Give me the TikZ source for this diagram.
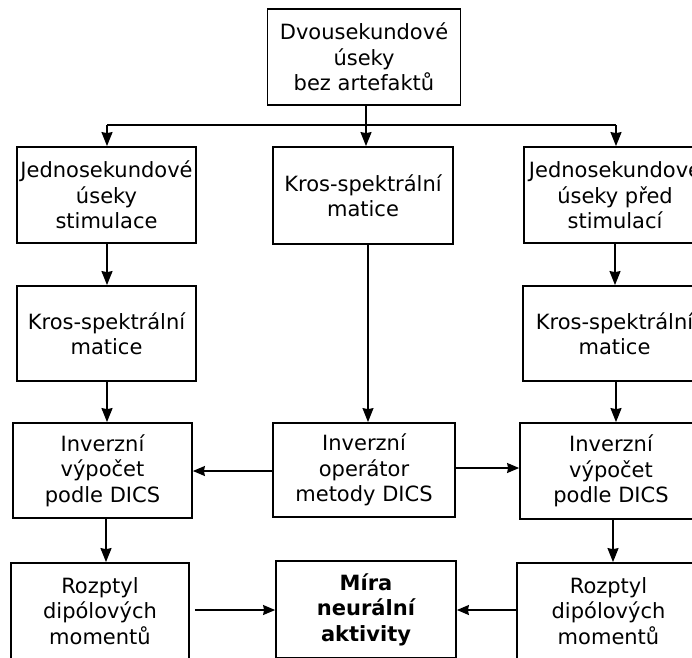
\documentclass[tikz,border=0pt]{standalone}
\usepackage{fontspec}
\setmainfont{DejaVu Sans}
\usetikzlibrary{arrows.meta}
\begin{document}
\begin{tikzpicture}[x=1pt,y=-1pt,
  box/.style={draw,line width=1.8pt,align=center,inner sep=0pt,
    font=\fontsize{21}{25.5}\selectfont},
  tip/.tip={Stealth[length=14pt,width=11pt,inset=1pt]},
  htip/.tip={Stealth[length=12pt,width=10pt,inset=1pt]},
  arr/.style={line width=1.5pt,-tip},
  harr/.style={line width=1.5pt,-htip},
  thin/.style={line width=1.1pt}]
\useasboundingbox (0,0) rectangle (692,657);
\clip (0,0) rectangle (692,657);
\fill[white] (0,0) rectangle (692,657);
% nodes
\node[box,minimum width=193pt,minimum height=96pt] (top) at (364,57) {Dvousekundové\\úseky\\bez artefaktů};
\node[box,minimum width=179pt,minimum height=96pt] (L1) at (106.5,195) {Jednosekundové\\úseky\\stimulace};
\node[box,minimum width=180pt,minimum height=97pt] (M1) at (363,195.5) {Kros-spektrální\\matice};
\node[box,minimum width=182pt,minimum height=96pt] (R1) at (615,195) {Jednosekundové\\úseky před\\stimulací};
\node[box,minimum width=179pt,minimum height=95pt] (L2) at (106.5,333.5) {Kros-spektrální\\matice};
\node[box,minimum width=183pt,minimum height=95pt] (R2) at (614.5,333.5) {Kros-spektrální\\matice};
\node[box,minimum width=179pt,minimum height=95pt] (L3) at (102.5,470.5) {Inverzní\\výpočet\\podle DICS};
\node[box,minimum width=182pt,minimum height=94pt] (M3) at (364,470) {Inverzní\\operátor\\metody DICS};
\node[box,minimum width=182pt,minimum height=96pt] (R3) at (611,471) {Inverzní\\výpočet\\podle DICS};
\node[box,minimum width=178pt,minimum height=96pt] (L4) at (100,611) {Rozptyl\\dipólových\\momentů};
\node[box,minimum width=180pt,minimum height=97pt,font=\fontsize{21}{25.5}\selectfont\bfseries] (M4) at (366,609.5) {Míra\\neurální\\aktivity};
\node[box,minimum width=183pt,minimum height=96pt] (R4) at (608.5,611) {Rozptyl\\dipólových\\momentů};
% top distribution
\coordinate (split) at (366,125);
\draw[thin] (366,0 |- top.south) -- (split);
\draw[thin] (107,125) -- (616,125);
\draw[arr] (107,125) -- (107,0 |- L1.north);
\draw[arr] (split) -- (366,0 |- M1.north);
\draw[arr] (616,125) -- (616,0 |- R1.north);
% left column
\draw[arr] (107,0 |- L1.south) -- (107,0 |- L2.north);
\draw[arr] (107,0 |- L2.south) -- (107,0 |- L3.north);
\draw[arr] (106,0 |- L3.south) -- (106,0 |- L4.north);
% right column
\draw[arr] (615,0 |- R1.south) -- (615,0 |- R2.north);
\draw[arr] (616,0 |- R2.south) -- (616,0 |- R3.north);
\draw[arr] (613,0 |- R3.south) -- (613,0 |- R4.north);
% middle column
\draw[arr,line width=1.2pt] (368,0 |- M1.south) -- (368,0 |- M3.north);
\draw[harr] (M3.west |- 0,471) -- (L3.east |- 0,471);
\draw[harr] (M3.east |- 0,468) -- (R3.west |- 0,468);
% bottom
\draw[harr] ([xshift=5pt]L4.east |- 0,610) -- (M4.west |- 0,610);
\draw[harr] (R4.west |- 0,610) -- (M4.east |- 0,610);
\end{tikzpicture}
\end{document}
